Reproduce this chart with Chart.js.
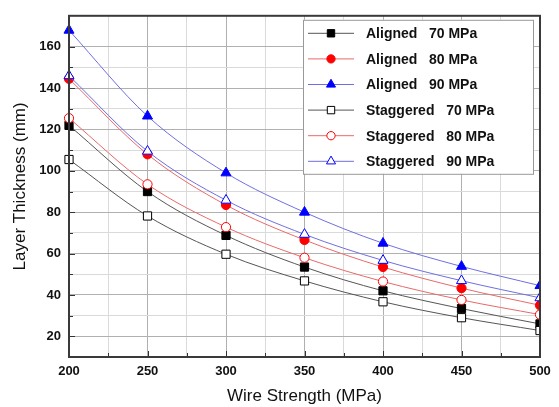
<!DOCTYPE html>
<html>
<head>
<meta charset="utf-8">
<script src="https://cdn.jsdelivr.net/npm/chart.js@4/dist/chart.umd.min.js"></script>
<style>
  html, body { margin: 0; padding: 0; background: #fff; }
  #wrap { width: 559px; height: 407px; }
</style>
</head>
<body>
<div id="wrap"><canvas id="thickness_chart"></canvas></div>
<script>
// wire strength (MPa) on the x axis
var strength = [200, 250, 300, 350, 400, 450, 500];

// layer thickness (mm) for each arrangement / pressure
var aligned70 = [122, 90, 68.8, 53.5, 42, 33.4, 26];
var aligned80 = [144.5, 108, 83.5, 66.6, 53.5, 43.3, 35];
var aligned90 = [168, 126.5, 99, 80, 65, 53.8, 44.5];
var staggered70 = [105.5, 78.2, 59.7, 46.8, 36.7, 29, 22.8];
var staggered80 = [125.5, 93.5, 72.8, 58, 46.5, 37.6, 30.5];
var staggered90 = [146, 109.5, 85.8, 69.3, 56.7, 46.9, 38.6];

var seriesNames = ['Aligned   70 MPa', 'Aligned   80 MPa', 'Aligned   90 MPa',
                   'Staggered   70 MPa', 'Staggered   80 MPa', 'Staggered   90 MPa'];

var FONT = "'Liberation Sans', Arial, sans-serif";

function toPoints(values) {
  return values.map(function (v, i) { return { x: strength[i], y: v }; });
}

function serie(label, values, line, mark, style, open, radius, order) {
  return {
    label: label,
    data: toPoints(values),
    borderColor: line,
    borderWidth: 1,
    pointStyle: style,
    pointRadius: radius,
    pointHoverRadius: radius,
    pointBackgroundColor: open ? '#fff' : mark,
    pointBorderColor: mark,
    pointBorderWidth: 1,
    cubicInterpolationMode: 'monotone',
    fill: false,
    order: order,
    clip: { left: 12, top: 12, right: 0, bottom: 12 }
  };
}

var datos = {
  datasets: [
    serie(seriesNames[0], aligned70, '#555', '#000', 'rect', false, 5.8, 1),
    serie(seriesNames[1], aligned80, '#e86a6a', '#f00', 'circle', false, 4.6, 1),
    serie(seriesNames[2], aligned90, '#6f6fe0', '#00f', 'triangle', false, 5.8, 1),
    serie(seriesNames[3], staggered70, '#555', '#000', 'rect', true, 5.8, 0),
    serie(seriesNames[4], staggered80, '#e86a6a', '#f00', 'circle', true, 4.6, 0),
    serie(seriesNames[5], staggered90, '#6f6fe0', '#00f', 'triangle', true, 5.8, 0)
  ]
};

// little marker painter used by the legend box
function drawMarker(ctx, ds, x, y) {
  var r = ds.pointRadius * 0.9;
  ctx.save();
  ctx.fillStyle = ds.pointBackgroundColor;
  ctx.strokeStyle = ds.pointBorderColor;
  ctx.lineWidth = 1;
  ctx.beginPath();
  if (ds.pointStyle === 'rect') {
    var s = r * Math.SQRT1_2;
    ctx.rect(x - s, y - s, 2 * s, 2 * s);
  } else if (ds.pointStyle === 'circle') {
    ctx.arc(x, y, r, 0, Math.PI * 2);
  } else {
    var w = r * Math.sqrt(3) / 2;
    ctx.moveTo(x, y - r);
    ctx.lineTo(x + w, y + r / 2);
    ctx.lineTo(x - w, y + r / 2);
    ctx.closePath();
  }
  ctx.fill();
  ctx.stroke();
  ctx.restore();
}

// frame, inward ticks and the boxed legend
var framePlugin = {
  id: 'frame',
  afterDraw: function (chart) {
    var ctx = chart.ctx, a = chart.chartArea;
    var sx = chart.scales.x, sy = chart.scales.y;

    ctx.save();
    ctx.strokeStyle = '#333';
    ctx.lineWidth = 1;
    sx.ticks.forEach(function (t) {
      var px = Math.round(sx.getPixelForValue(t.value)) + 0.5;
      var len = t.value % 50 === 0 ? 6 : 4;
      ctx.beginPath();
      ctx.moveTo(px, a.bottom);
      ctx.lineTo(px, a.bottom - len);
      ctx.stroke();
    });
    sy.ticks.forEach(function (t) {
      if (t.value % 10 !== 0) return;
      var py = Math.round(sy.getPixelForValue(t.value)) + 0.5;
      var len = t.value % 20 === 0 ? 6 : 4;
      ctx.beginPath();
      ctx.moveTo(a.left, py);
      ctx.lineTo(a.left + len, py);
      ctx.stroke();
    });

    ctx.lineWidth = 2;
    ctx.strokeStyle = '#3a3a3a';
    ctx.strokeRect(a.left, a.top, a.right - a.left, a.bottom - a.top);

    // legend
    var bx = a.right - 237, by = a.top + 4, bw = 230, bh = 154;
    ctx.fillStyle = '#fff';
    ctx.fillRect(bx, by, bw, bh);
    ctx.lineWidth = 1;
    ctx.strokeStyle = '#999';
    ctx.strokeRect(bx + 0.5, by + 0.5, bw, bh);

    ctx.font = 'bold 14px ' + FONT;
    ctx.textBaseline = 'middle';
    ctx.textAlign = 'left';
    chart.data.datasets.forEach(function (ds, i) {
      var y = by + 13.5 + i * 25.6;
      ctx.strokeStyle = ds.borderColor;
      ctx.lineWidth = 1;
      ctx.beginPath();
      ctx.moveTo(bx + 5, y);
      ctx.lineTo(bx + 51, y);
      ctx.stroke();
      drawMarker(ctx, ds, bx + 28, y);
      ctx.fillStyle = '#111';
      ctx.fillText(ds.label, bx + 63, y + 1);
    });
    ctx.restore();
  }
};

var canvas_grafico = document.getElementById('thickness_chart').getContext('2d');

window.grafico = new Chart(canvas_grafico, {
  type: 'line',
  data: datos,
  plugins: [framePlugin],
  options: {
    responsive: true,
    maintainAspectRatio: false,
    animation: false,
    layout: { padding: { left: 0, right: 19, top: 10, bottom: 0 } },
    plugins: {
      legend: { display: false },
      tooltip: { enabled: false }
    },
    scales: {
      x: {
        type: 'linear',
        min: 200,
        max: 500,
        afterFit: function (scale) { scale.height = 50; },
        ticks: {
          stepSize: 25,
          padding: 7,
          maxRotation: 0,
          autoSkip: false,
          color: '#111',
          font: { family: FONT, size: 13, weight: 'bold' },
          callback: function (v) { return v % 50 === 0 ? v : ''; }
        },
        grid: {
          drawTicks: false,
          color: function (c) { return c.tick && c.tick.value % 50 === 0 ? '#b0b0b0' : '#dadada'; }
        },
        border: { display: false },
        title: {
          display: true,
          text: 'Wire Strength (MPa)',
          color: '#111',
          font: { family: FONT, size: 17 },
          padding: { top: 0, bottom: 0 }
        }
      },
      y: {
        min: 10,
        max: 175,
        afterFit: function (scale) { scale.width = 69; },
        ticks: {
          stepSize: 10,
          padding: 8,
          autoSkip: false,
          color: '#111',
          font: { family: FONT, size: 13, weight: 'bold' },
          callback: function (v) { return v % 20 === 0 ? v : ''; }
        },
        grid: {
          drawTicks: false,
          color: function (c) { return c.tick && c.tick.value % 20 === 0 ? '#b0b0b0' : '#dadada'; }
        },
        border: { display: false },
        title: {
          display: true,
          text: 'Layer Thickness (mm)',
          color: '#111',
          font: { family: FONT, size: 17 },
          padding: { top: 10, bottom: 0 }
        }
      }
    }
  }
});
</script>
</body>
</html>
